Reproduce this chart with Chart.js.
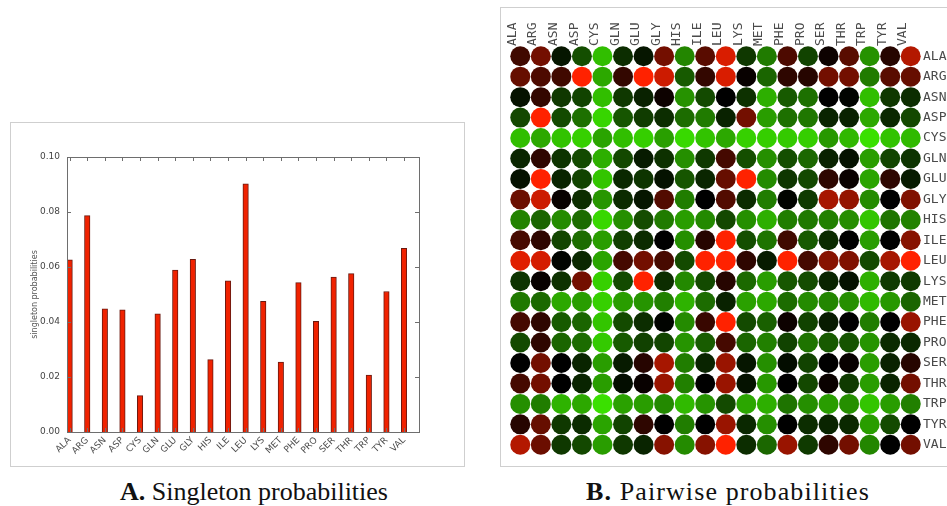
<!DOCTYPE html>
<html>
<head>
<meta charset="utf-8">
<script src="https://cdn.jsdelivr.net/npm/chart.js@4.4.1/dist/chart.umd.min.js"></script>
<style>
  html, body { margin: 0; padding: 0; background: #fff; }
  body { position: relative; width: 947px; height: 506px; overflow: hidden; }
  .panel { position: absolute; box-sizing: border-box; border: 1px solid #cfcfcf; }
  canvas { position: absolute; }
  .caption {
    position: absolute; top: 477px; width: 440px; text-align: center;
    font-family: "Liberation Serif", "DejaVu Serif", serif; font-size: 26px; color: #111;
  }
  .caption b { font-weight: bold; }
</style>
</head>
<body>
<div class="panel" style="left:10px; top:122px; width:455px; height:345px;"></div>
<div class="panel" style="left:500px; top:7px; width:460px; height:460px; border-right:none;"></div>
<canvas id="singleton-chart" width="452" height="342" style="left:11px; top:123px;"></canvas>
<canvas id="pairwise-chart" width="447" height="458" style="left:500px; top:7px;"></canvas>
<div class="caption" style="left:34px;"><b>A.</b> Singleton probabilities</div>
<div class="caption" style="left:508px; letter-spacing:1.1px;"><b>B.</b> Pairwise probabilities</div>

<script>
// ========================================
// Data
// ========================================

const aminoAcids = ['ALA', 'ARG', 'ASN', 'ASP', 'CYS', 'GLN', 'GLU', 'GLY', 'HIS', 'ILE',
                    'LEU', 'LYS', 'MET', 'PHE', 'PRO', 'SER', 'THR', 'TRP', 'TYR', 'VAL'];

const singletonProbs = [0.0626, 0.0787, 0.0448, 0.0444, 0.0132, 0.0430, 0.0589, 0.0628, 0.0263, 0.0550,
                        0.0902, 0.0475, 0.0254, 0.0543, 0.0402, 0.0563, 0.0576, 0.0207, 0.0511, 0.0668];

const singletonTicks = [0, 0.02, 0.04, 0.06, 0.08, 0.10];

// pairwise score per cell, -10 (bright green) .. 0 (black) .. +10 (bright red)
const pairwise = [
  [ 2.5, 4.5, -1.0, -3.5, -8.5, -2.0, -1.0, 4.5, -6.0, 3.5, 8.5, -2.5, -5.5, 3.0, -3.0, 0.5, 3.5, -6.5, 1.5, 7.0],  // ALA
  [ 4.0, 3.0, 2.5, 10, -7.5, 2.0, 10, 8.0, -4.0, 2.0, 8.5, 0.3, -4.5, 1.8, 1.5, 4.5, 4.5, -5.5, 3.5, 4.0],         // ARG
  [-0.8, 2.0, -2.5, -3.0, -8.5, -2.5, -1.5, 0.5, -6.5, -3.3, 0, -2.2, -7.8, -4.0, -5.0, 0, -0.2, -8.5, -2.5, -2.0], // ASN
  [-3.2, 10, -3.3, -5.0, -9.5, -3.8, -2.7, -2.0, -4.8, -5.5, -1.5, 4.5, -7.0, -5.0, -5.3, -1.6, -1.5, -7.5, -1.8, -3.2], // ASP
  [-8.5, -7.5, -8.7, -9.3, -7.3, -8.5, -9.2, -7.1, -9.7, -8.7, -7.5, -9.3, -9.2, -9.0, -9.2, -6.8, -8.2, -10, -8.7, -8.3], // CYS
  [-1.7, 1.8, -2.3, -3.3, -7.8, -3.2, -1.2, -2.2, -6.4, -2.5, 2.7, -3.5, -6.4, -3.5, -4.6, -1.5, -0.8, -7.0, -3.1, -2.3], // GLN
  [-0.8, 10, -1.6, -3.0, -8.8, -1.8, -2.3, -0.8, -3.8, -1.7, 4.0, 10, -6.2, -2.4, -3.2, 1.8, 0.4, -7.3, 1.8, -1.2],  // GLU
  [ 4.2, 8.0, 0.3, -2.0, -6.7, -1.9, -1.0, 3.2, -5.6, 0, 3.2, -1.9, -5.6, -0.2, -2.6, 6.5, 5.8, -6.2, 0, 5.0],       // GLY
  [-5.8, -4.5, -6.2, -4.8, -9.6, -6.4, -3.4, -5.5, -7.0, -6.1, -3.2, -6.4, -7.8, -5.6, -5.4, -5.7, -6.3, -8.8, -5.2, -5.8], // HIS
  [ 2.8, 1.8, -3.1, -4.8, -7.0, -2.8, -1.9, 0, -6.4, 1.5, 10, -3.5, -5.2, 2.5, -4.0, -1.9, 0, -7.0, 0, 5.3],         // ILE
  [ 8.8, 8.3, -0.2, -1.8, -7.3, 2.7, 4.5, 2.8, -3.3, 10, 10, 1.8, -1.2, 10, 2.7, 5.3, 5.0, -3.3, 6.5, 10],           // LEU
  [-2.3, 0.3, -2.2, 4.5, -9.3, -3.3, 10, -2.0, -6.1, -3.3, 1.5, -4.7, -7.0, -3.9, -3.4, -1.6, -0.8, -7.8, -2.6, -2.6], // LYS
  [-5.4, -4.7, -7.5, -7.0, -9.3, -7.0, -6.6, -5.7, -8.0, -4.8, -1.5, -7.2, -7.5, -4.8, -6.2, -6.0, -6.4, -8.3, -6.8, -4.5], // MET
  [ 2.7, 1.8, -4.0, -4.5, -8.8, -3.3, -2.0, -0.2, -6.2, 2.2, 10, -3.3, -4.3, 0.5, -3.0, -1.2, 0, -5.6, 0, 6.0],      // PHE
  [-3.3, 1.8, -4.5, -4.8, -9.0, -4.0, -2.9, -3.1, -6.6, -4.1, 2.7, -4.5, -5.7, -3.0, -5.2, -4.0, -3.7, -6.6, -1.9, -1.8], // PRO
  [ 0, 4.5, 0, -1.6, -7.0, -1.2, 1.5, 6.5, -5.6, -1.6, 6.0, -1.0, -6.4, -0.6, -3.0, 0, 0.3, -7.0, -1.5, 1.5],        // SER
  [ 2.7, 4.5, 0, -1.6, -7.0, -0.6, 0.3, 6.0, -5.7, 0, 6.0, -0.8, -6.8, 0, -3.2, 0.4, -2.6, -7.0, -1.6, 4.5],         // THR
  [-6.4, -5.6, -8.0, -7.5, -10, -7.2, -7.0, -6.1, -8.3, -6.6, -3.3, -7.4, -7.8, -5.2, -6.4, -7.0, -6.4, -8.8, -7.0, -5.7], // TRP
  [ 1.5, 4.0, -2.5, -1.9, -7.3, -3.0, 1.8, 0, -5.6, 0, 6.0, -1.8, -6.4, 0, -2.0, -1.6, -1.8, -7.0, -3.3, 0],         // TYR
  [ 7.0, 4.2, -2.5, -3.2, -7.0, -2.5, -1.6, 5.3, -6.2, 5.3, 10, -2.0, -4.6, 6.0, -2.6, 1.8, 4.5, -6.0, 0, 4.5]       // VAL
];

// ========================================
// Helpers
// ========================================

function scoreColor(v) {
  const t = Math.min(Math.abs(v) / 10, 1);
  if (v >= 0) {
    return `rgb(${Math.round(255 * t)}, ${Math.round(34 * t)}, 0)`;
  }
  return `rgb(${Math.round(58 * t)}, ${Math.round(224 * t)}, 0)`;
}

// keep the axes from reserving extra room for overhanging labels
function noLabelPadding(axis) {
  axis.paddingLeft = 0;
  axis.paddingRight = 0;
  axis.paddingTop = 0;
  axis.paddingBottom = 0;
}

// matplotlib-style box with inward ticks on all four sides
const frameTicks = {
  id: 'frameTicks',
  afterDraw(chart) {
    const { ctx, chartArea: a, scales } = chart;
    const len = 4;
    ctx.save();
    ctx.strokeStyle = '#6e6e6e';
    ctx.lineWidth = 1;
    ctx.beginPath();
    scales.x.ticks.forEach(t => {
      const px = Math.round(scales.x.getPixelForValue(t.value)) + 0.5;
      ctx.moveTo(px, a.bottom); ctx.lineTo(px, a.bottom - len);
      ctx.moveTo(px, a.top); ctx.lineTo(px, a.top + len);
    });
    scales.y.ticks.forEach(t => {
      const py = Math.round(scales.y.getPixelForValue(t.value)) + 0.5;
      ctx.moveTo(a.left, py); ctx.lineTo(a.left + len, py);
      ctx.moveTo(a.right, py); ctx.lineTo(a.right - len, py);
    });
    ctx.stroke();
    ctx.strokeRect(Math.round(a.left) + 0.5, Math.round(a.top) + 0.5,
                   Math.round(a.right - a.left), Math.round(a.bottom - a.top));
    ctx.restore();
  }
};

// ========================================
// A. Singleton probabilities
// ========================================

const barOffset = 0.15;

new Chart(document.getElementById('singleton-chart'), {
  type: 'bar',
  data: {
    datasets: [{
      data: singletonProbs.map((p, i) => ({ x: i + barOffset, y: p })),
      backgroundColor: '#f02200',
      borderColor: '#6a1a10',
      borderWidth: 1,
      barThickness: 5.5
    }]
  },
  options: {
    responsive: false,
    devicePixelRatio: 1,
    animation: false,
    layout: { padding: { top: 34, right: 44, left: 0, bottom: 0 } },
    plugins: { legend: { display: false }, tooltip: { enabled: false } },
    scales: {
      x: {
        type: 'linear',
        offset: false,
        min: 0,
        max: 20,
        grid: { display: false, drawTicks: false },
        border: { display: false },
        afterBuildTicks: axis => {
          axis.ticks = aminoAcids.map((_, i) => ({ value: i + barOffset }));
        },
        afterFit: axis => { axis.height = 33; noLabelPadding(axis); },
        ticks: {
          autoSkip: false,
          minRotation: 45,
          maxRotation: 45,
          padding: 3,
          color: '#4e4e4e',
          font: { family: 'DejaVu Sans', size: 9 },
          callback: value => aminoAcids[Math.round(value - barOffset)]
        }
      },
      y: {
        min: 0,
        max: 0.1,
        grid: { display: false, drawTicks: false },
        border: { display: false },
        afterBuildTicks: axis => {
          axis.ticks = singletonTicks.map(v => ({ value: v }));
        },
        afterFit: axis => { axis.width = 56; noLabelPadding(axis); },
        ticks: {
          padding: 7,
          color: '#444',
          font: { family: 'DejaVu Sans', size: 9 },
          callback: value => value.toFixed(2)
        },
        title: {
          display: true,
          text: 'singleton probabilities',
          color: '#555',
          font: { family: 'DejaVu Sans', size: 8 },
          padding: { top: 19, bottom: 0 }
        }
      }
    }
  },
  plugins: [frameTicks]
});

// ========================================
// B. Pairwise probabilities
// ========================================

const cells = [];
pairwise.forEach((row, r) => {
  row.forEach((v, c) => cells.push({ x: c, y: r, v: v }));
});

const labelFont = { family: 'DejaVu Sans Mono', size: 13, lineHeight: 1.2 };

new Chart(document.getElementById('pairwise-chart'), {
  type: 'scatter',
  data: {
    datasets: [{
      data: cells,
      pointRadius: 10,
      pointHoverRadius: 10,
      borderWidth: 0,
      backgroundColor: ctx => scoreColor(ctx.raw ? ctx.raw.v : 0)
    }]
  },
  options: {
    responsive: false,
    devicePixelRatio: 1,
    animation: false,
    layout: { padding: 0 },
    plugins: { legend: { display: false }, tooltip: { enabled: false } },
    scales: {
      x: {
        type: 'linear',
        position: 'top',
        min: -0.5,
        max: 19.5,
        grid: { display: false, drawTicks: false },
        border: { display: false },
        afterBuildTicks: axis => {
          axis.ticks = aminoAcids.map((_, i) => ({ value: i }));
        },
        afterFit: axis => { axis.height = 39; noLabelPadding(axis); },
        ticks: {
          autoSkip: false,
          minRotation: 90,
          maxRotation: 90,
          padding: 0,
          labelOffset: 7.8,
          color: '#4a4a4a',
          font: labelFont,
          callback: value => aminoAcids[Math.round(value)]
        }
      },
      y: {
        type: 'linear',
        position: 'right',
        reverse: true,
        min: -0.5,
        max: 19.5,
        grid: { display: false, drawTicks: false },
        border: { display: false },
        afterBuildTicks: axis => {
          axis.ticks = aminoAcids.map((_, i) => ({ value: i }));
        },
        afterFit: axis => { axis.width = 26; noLabelPadding(axis); },
        ticks: {
          autoSkip: false,
          padding: 2,
          color: '#4a4a4a',
          font: labelFont,
          callback: value => aminoAcids[Math.round(value)]
        }
      }
    }
  }
});
</script>
</body>
</html>
